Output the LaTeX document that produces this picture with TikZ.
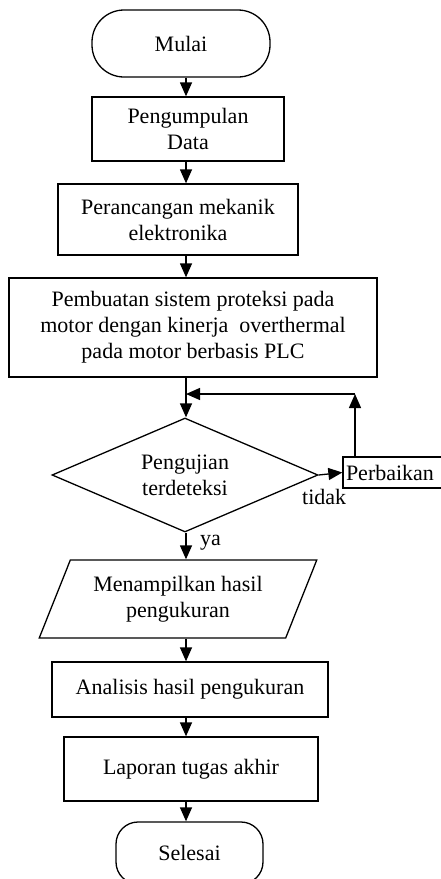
\documentclass[tikz,border=0pt]{standalone}
\usepackage{fontspec}
\setmainfont{Liberation Serif}
\usetikzlibrary{shapes.geometric, arrows.meta}

\tikzset{
  alur/.style  = {line width=1.3pt, -{Triangle[width=12pt,length=14pt]}},
  kotak/.style = {draw, line width=1.3pt, align=center, inner sep=2pt},
  ujung/.style = {kotak, rounded corners=#1},
}

\begin{document}
\begin{tikzpicture}[x=1pt, y=-1pt, font=\fontsize{22}{26}\selectfont]
    \useasboundingbox (0,0) rectangle (441,879);
    %--- Kolom panah utama ---
    \coordinate (kol) at (186,0);
    %--- Simbol-simbol alir ---
    \node[ujung=32pt, minimum width=178pt, minimum height=67pt] (mulai) at (181,43.5){Mulai};
    \node[kotak, minimum width=192pt, minimum height=64pt] (data) at (188,129){Pengumpulan\\Data};
    \node[kotak, minimum width=240pt, minimum height=71pt] (rancang) at (178,219.5){Perancangan mekanik\\elektronika};
    \node[kotak, minimum width=368pt, minimum height=99pt] (buat) at (193,327.5){Pembuatan sistem proteksi pada\\motor dengan kinerja~ overthermal\\pada motor berbasis PLC};
    \node[kotak, diamond, aspect=2.33, inner sep=0pt, minimum width=266pt, minimum height=114pt] (uji) at (185,475){Pengujian\\terdeteksi};
    \node[kotak, align=left, text width=100pt, inner xsep=3pt, inner ysep=0pt, minimum height=31pt] (perb) at (396,472.5){Perbaikan};
    \node[kotak, trapezium, trapezium left angle=63.4, trapezium right angle=116.6, trapezium stretches=true, minimum width=278pt, minimum height=78pt] (tampil) at (178,599){Menampilkan hasil\\pengukuran};
    \node[kotak, minimum width=276pt, minimum height=55pt] (analisis) at (190,689.5){Analisis hasil pengukuran};
    \node[kotak, minimum width=254pt, minimum height=64pt] (laporan) at (191,769){Laporan tugas akhir};
    \node[ujung=22pt, minimum width=147pt, minimum height=62pt] (selesai) at (189.5,853){Selesai};
    %--- Panah utama ---
    \draw[alur] (mulai.south -| kol) -- (data.north -| kol);
    \draw[alur] (data.south -| kol) -- (rancang.north -| kol);
    \draw[alur] (rancang.south -| kol) -- (buat.north -| kol);
    \draw[alur] (buat.south -| kol) -- (uji.north -| kol);
    \draw[alur] (uji.south -| kol) -- (tampil.north -| kol);
    \draw[alur] (tampil.south -| kol) -- (analisis.north -| kol);
    \draw[alur] (analisis.south -| kol) -- (laporan.north -| kol);
    \draw[alur] (laporan.south -| kol) -- (selesai.north -| kol);
    %--- Cabang tidak dan umpan balik ---
    \draw[alur] (uji.east) -- (perb.west);
    \coordinate (balik) at (355,394);
    \draw[alur] (balik |- perb.north) -- (balik);
    \draw[alur] (balik) -- (balik -| kol);
    %--- Label cabang ---
    \node[anchor=west, inner sep=0pt] (ya) at (200,543){ya};
    \node[anchor=west, inner sep=0pt] (tidak) at (302,497){tidak};
\end{tikzpicture}
\end{document}
